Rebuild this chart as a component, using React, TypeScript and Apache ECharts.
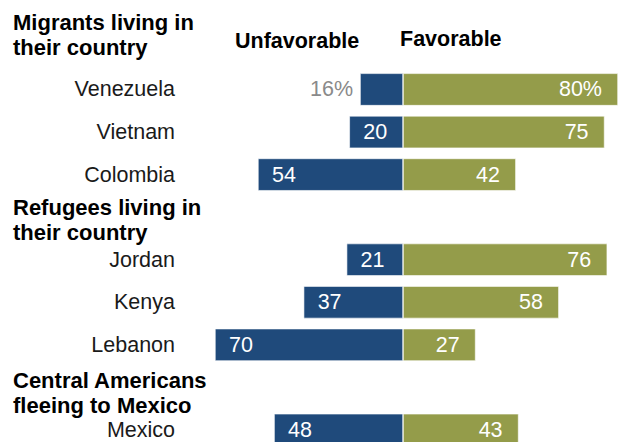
import React, { useEffect, useRef } from "react";
import * as echarts from "echarts";

const categories = ["Venezuela", "Vietnam", "Colombia", "", "Jordan", "Kenya", "Lebanon", " ", "Mexico"];
const unfavorable = [16, 20, 54, null, 21, 37, 70, null, 48];
const favorable = [80, 75, 42, null, 76, 58, 27, null, 43];
const groupTitles = ["Migrants living in\ntheir country", "Refugees living in\ntheir country", "Central Americans\nfleeing to Mexico"];
const columnHeaders = ["Unfavorable", "Favorable"];

const BLUE = "#1f4a7b";
const OLIVE = "#949c4a";
const FONT = "'Liberation Sans', Arial, sans-serif";

export default function App() {
  const ref = useRef<HTMLDivElement>(null);
  useEffect(() => {
    if (!ref.current) return;
    const chart = echarts.init(ref.current, null, { renderer: "svg" });
    const titleY = [35, 220, 393];
    chart.setOption({
      animation: false,
      backgroundColor: "#ffffff",
      grid: { left: 0, width: 618, top: 68.2, height: 383 },
      xAxis: { type: "value", min: -150, max: 80, show: false },
      yAxis: {
        type: "category",
        data: categories,
        inverse: true,
        offset: -175,
        axisLine: { show: false },
        axisTick: { show: false },
        splitLine: { show: false },
        axisLabel: { margin: 0, color: "#1a1a1a", fontSize: 21.5, fontFamily: FONT },
      },
      series: [
        {
          name: columnHeaders[0],
          type: "bar",
          barGap: "-100%",
          barCategoryGap: "24%",
          data: unfavorable.map((v, i) =>
            v == null
              ? null
              : i === 0
              ? { value: -v, label: { position: "left", distance: 7, color: "#8a8a8a", formatter: v + "%" } }
              : -v
          ),
          itemStyle: { color: BLUE, borderColor: "#ffffff", borderWidth: 0.6 },
          label: {
            show: true,
            position: "insideLeft",
            distance: 14,
            color: "#ffffff",
            fontSize: 21.5,
            fontFamily: FONT,
            formatter: (p: any) => String(Math.abs(p.value)),
          },
        },
        {
          name: columnHeaders[1],
          type: "bar",
          barGap: "-100%",
          barCategoryGap: "24%",
          data: favorable.map((v, i) => (v == null ? null : i === 0 ? { value: v, label: { formatter: v + "%" } } : v)),
          itemStyle: { color: OLIVE, borderColor: "#ffffff", borderWidth: 0.6 },
          label: {
            show: true,
            position: "insideRight",
            distance: 16,
            color: "#ffffff",
            fontSize: 21.5,
            fontFamily: FONT,
          },
        },
      ],
      graphic: [
        ...groupTitles.map((t, i) => ({
          type: "text",
          left: 13,
          top: titleY[i] - 25,
          style: { text: t, font: "bold 22px " + FONT, fill: "#000000", lineHeight: 25 },
        })),
        {
          type: "text",
          left: 235,
          top: 30,
          style: { text: columnHeaders[0], font: "bold 21.5px " + FONT, fill: "#000000" },
        },
        {
          type: "text",
          left: 400,
          top: 28,
          style: { text: columnHeaders[1], font: "bold 21.5px " + FONT, fill: "#000000" },
        },
      ],
    });
    return () => chart.dispose();
  }, []);
  return <div ref={ref} style={{ position: "fixed", left: 0, top: 0, width: 618, height: 460 }} />;
}
